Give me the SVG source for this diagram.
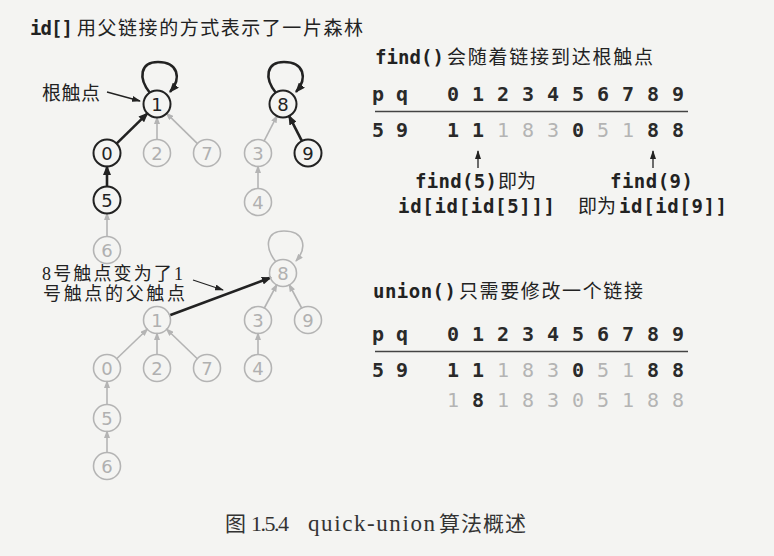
<svg xmlns="http://www.w3.org/2000/svg" width="774" height="556" viewBox="0 0 774 556">
<defs>
<style>
.bg{fill:#f4f4f2}
.nb circle{fill:none;stroke:#222;stroke-width:2}
.ng circle{fill:none;stroke:#b4b4b4;stroke-width:1.6}
.nb text,.ng text{font-family:"DejaVu Sans","Liberation Sans",sans-serif;font-size:18px;text-anchor:middle}
.nb text{fill:#222}
.ng text{fill:#b0b0b0}
.eb{fill:none;stroke:#222;stroke-width:2.6;marker-end:url(#ab)}
.eg{fill:none;stroke:#b4b4b4;stroke-width:1.6;marker-end:url(#ag)}
.et{fill:none;stroke:#222;stroke-width:1.3;marker-end:url(#at)}
.cjk{font-family:"Noto Sans CJK SC",sans-serif;font-size:19px;fill:#222}
.ser{font-family:"Liberation Serif","Noto Sans CJK SC",serif;font-size:18px;fill:#222}
.bm{font-family:"DejaVu Sans Mono","Liberation Mono",monospace;font-weight:bold;font-size:19px;fill:#222}
.tb{font-family:"DejaVu Sans Mono","Liberation Mono",monospace;font-size:20px;font-weight:600;fill:#2a2a2a;text-anchor:middle}
.tg{font-family:"DejaVu Sans Mono","Liberation Mono",monospace;font-size:20px;fill:#b4b4b4;text-anchor:middle}
.rule{stroke:#444;stroke-width:1.5}
</style>
<marker id="ab" markerUnits="userSpaceOnUse" markerWidth="10" markerHeight="8" refX="9" refY="4" orient="auto"><path d="M0,0 L10,4 L0,8 z" fill="#222"/></marker>
<marker id="ag" markerUnits="userSpaceOnUse" markerWidth="8" markerHeight="6" refX="7" refY="3" orient="auto"><path d="M0,0 L8,3 L0,6 z" fill="#b4b4b4"/></marker>
<marker id="at" markerUnits="userSpaceOnUse" markerWidth="9" markerHeight="6" refX="8" refY="3" orient="auto"><path d="M0,0 L9,3 L0,6 z" fill="#222"/></marker>
</defs>
<rect class="bg" x="0" y="0" width="774" height="556"/>

<!-- titles and labels -->
<g id="title1">
<text class="bm" x="30" y="35" font-size="18" textLength="43">id[]</text>
<text class="cjk" x="77" y="35" textLength="286" lengthAdjust="spacing">用父链接的方式表示了一片森林</text>
</g>
<text class="cjk" x="42" y="100" textLength="58" lengthAdjust="spacing">根触点</text>
<text class="ser" x="42" y="280" textLength="141" lengthAdjust="spacing">8号触点变为了1</text>
<text class="ser" x="43" y="300" textLength="142" lengthAdjust="spacing">号触点的父触点</text>

<!-- connectors -->
<g id="connectors">
<path class="eb" d="M150,93 C138,78 140,62 158,62 C178,62 182,78 170,92"/>
<path class="eb" d="M276,93 C264,78 266,62 284,62 C304,62 308,78 296,92"/>
<path class="eb" d="M116.3,143.9 L147.7,113.1"/>
<path class="eg" d="M157,140 L157,117"/>
<path class="eg" d="M197.7,143.9 L166.3,113.1"/>
<path class="eb" d="M107,187 L107,166"/>
<path class="eg" d="M107,237 L107,213"/>
<path class="eg" d="M263.9,141.4 L277.1,115.6"/>
<path class="eb" d="M302.1,141.4 L288.9,115.6"/>
<path class="eg" d="M258,189 L258,166"/>
<path class="et" d="M107,92 L140,101"/>

<path class="eg" d="M276,262 C264,247 266,231 284,231 C304,231 308,247 296,261"/>
<path class="eb" d="M169.2,315.5 L270.8,277.5"/>
<path class="eg" d="M116.4,359 L147.6,329"/>
<path class="eg" d="M157,355 L157,333"/>
<path class="eg" d="M197.6,359 L166.4,329"/>
<path class="eg" d="M264.1,308.5 L276.9,284.5"/>
<path class="eg" d="M301.9,308.5 L289.1,284.5"/>
<path class="eg" d="M258,355 L258,333"/>
<path class="eg" d="M107,405 L107,381"/>
<path class="eg" d="M107,453 L107,431"/>
<path class="et" d="M193,280 L223,290"/>

<path class="et" d="M478,168 L478,151"/>
<path class="et" d="M653,168 L653,151"/>
</g>

<!-- upper forest nodes -->
<g id="u1" class="nb"><circle cx="157" cy="104" r="13.5"/><text x="157" y="110.5">1</text></g>
<g id="u8" class="nb"><circle cx="283" cy="104" r="13.5"/><text x="283" y="110.5">8</text></g>
<g id="u0" class="nb"><circle cx="107" cy="153" r="13.5"/><text x="107" y="159.5">0</text></g>
<g id="u2" class="ng"><circle cx="157" cy="153" r="13.5"/><text x="157" y="159.5">2</text></g>
<g id="u7" class="ng"><circle cx="207" cy="153" r="13.5"/><text x="207" y="159.5">7</text></g>
<g id="u3" class="ng"><circle cx="258" cy="153" r="13.5"/><text x="258" y="159.5">3</text></g>
<g id="u9" class="nb"><circle cx="308" cy="153" r="13.5"/><text x="308" y="159.5">9</text></g>
<g id="u5" class="nb"><circle cx="107" cy="200" r="13.5"/><text x="107" y="206.5">5</text></g>
<g id="u4" class="ng"><circle cx="258" cy="202" r="13.5"/><text x="258" y="208.5">4</text></g>
<g id="u6" class="ng"><circle cx="107" cy="250" r="13.5"/><text x="107" y="256.5">6</text></g>

<!-- lower forest nodes -->
<g id="l8" class="ng"><circle cx="283" cy="273" r="13.5"/><text x="283" y="279.5">8</text></g>
<g id="l1" class="ng"><circle cx="157" cy="320" r="13.5"/><text x="157" y="326.5">1</text></g>
<g id="l3" class="ng"><circle cx="258" cy="320" r="13.5"/><text x="258" y="326.5">3</text></g>
<g id="l9" class="ng"><circle cx="308" cy="320" r="13.5"/><text x="308" y="326.5">9</text></g>
<g id="l0" class="ng"><circle cx="107" cy="368" r="13.5"/><text x="107" y="374.5">0</text></g>
<g id="l2" class="ng"><circle cx="157" cy="368" r="13.5"/><text x="157" y="374.5">2</text></g>
<g id="l7" class="ng"><circle cx="207" cy="368" r="13.5"/><text x="207" y="374.5">7</text></g>
<g id="l4" class="ng"><circle cx="258" cy="368" r="13.5"/><text x="258" y="374.5">4</text></g>
<g id="l5" class="ng"><circle cx="107" cy="418" r="13.5"/><text x="107" y="424.5">5</text></g>
<g id="l6" class="ng"><circle cx="107" cy="466" r="13.5"/><text x="107" y="472.5">6</text></g>

<!-- find table -->
<g id="findtable">
<text class="bm" x="375" y="64" textLength="69">find()</text>
<text class="cjk" x="447" y="64" textLength="206" lengthAdjust="spacing">会随着链接到达根触点</text>
<g class="tb"><text x="378" y="101">p</text><text x="402" y="101">q</text>
<text x="453" y="101">0</text><text x="478" y="101">1</text><text x="503" y="101">2</text><text x="528" y="101">3</text><text x="553" y="101">4</text><text x="578" y="101">5</text><text x="603" y="101">6</text><text x="628" y="101">7</text><text x="653" y="101">8</text><text x="678" y="101">9</text></g>
<line class="rule" x1="375" y1="111.5" x2="688" y2="111.5"/>
<text class="tb" x="378" y="137">5</text><text class="tb" x="402" y="137">9</text>
<text class="tb" x="453" y="137">1</text><text class="tb" x="478" y="137">1</text><text class="tg" x="503" y="137">1</text><text class="tg" x="528" y="137">8</text><text class="tg" x="553" y="137">3</text><text class="tb" x="578" y="137">0</text><text class="tg" x="603" y="137">5</text><text class="tg" x="628" y="137">1</text><text class="tb" x="653" y="137">8</text><text class="tb" x="678" y="137">8</text>
<text class="bm" x="415" y="188" textLength="82">find(5)</text>
<text class="cjk" x="498" y="188">即为</text>
<text class="bm" x="398" y="213" textLength="157">id[id[id[5]]]</text>
<text class="bm" x="610" y="188" textLength="83">find(9)</text>
<text class="cjk" x="578" y="213">即为</text>
<text class="bm" x="619" y="213" textLength="108">id[id[9]]</text>
</g>

<!-- union table -->
<g id="uniontable">
<text class="bm" x="373" y="298" textLength="83">union()</text>
<text class="cjk" x="459" y="298" textLength="184" lengthAdjust="spacing">只需要修改一个链接</text>
<g class="tb"><text x="378" y="341">p</text><text x="402" y="341">q</text>
<text x="453" y="341">0</text><text x="478" y="341">1</text><text x="503" y="341">2</text><text x="528" y="341">3</text><text x="553" y="341">4</text><text x="578" y="341">5</text><text x="603" y="341">6</text><text x="628" y="341">7</text><text x="653" y="341">8</text><text x="678" y="341">9</text></g>
<line class="rule" x1="375" y1="351.5" x2="688" y2="351.5"/>
<text class="tb" x="378" y="377">5</text><text class="tb" x="402" y="377">9</text>
<text class="tb" x="453" y="377">1</text><text class="tb" x="478" y="377">1</text><text class="tg" x="503" y="377">1</text><text class="tg" x="528" y="377">8</text><text class="tg" x="553" y="377">3</text><text class="tb" x="578" y="377">0</text><text class="tg" x="603" y="377">5</text><text class="tg" x="628" y="377">1</text><text class="tb" x="653" y="377">8</text><text class="tb" x="678" y="377">8</text>
<text class="tg" x="453" y="407">1</text><text class="tb" x="478" y="407">8</text><text class="tg" x="503" y="407">1</text><text class="tg" x="528" y="407">8</text><text class="tg" x="553" y="407">3</text><text class="tg" x="578" y="407">0</text><text class="tg" x="603" y="407">5</text><text class="tg" x="628" y="407">1</text><text class="tg" x="653" y="407">8</text><text class="tg" x="678" y="407">8</text>
</g>

<!-- caption -->
<g id="caption" font-family="Liberation Serif, 'Noto Sans CJK SC', serif" fill="#333">
<text x="225" y="531" font-size="21" font-family="'Noto Sans CJK SC', sans-serif">图</text>
<text x="251" y="531" font-size="22" textLength="38">1.5.4</text>
<text x="308" y="531" font-size="23" textLength="127">quick-union</text>
<text x="439" y="531" font-size="21" font-family="'Noto Sans CJK SC', sans-serif" textLength="87" lengthAdjust="spacing">算法概述</text>
</g>
</svg>
